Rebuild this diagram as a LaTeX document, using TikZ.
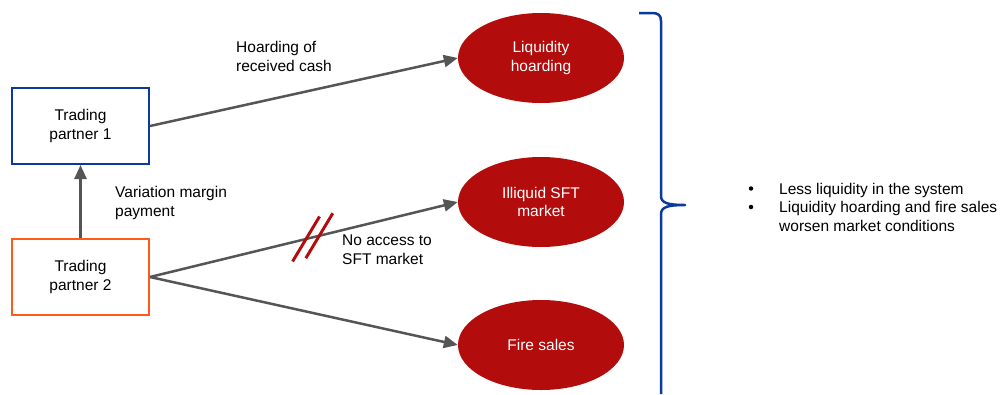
\documentclass[tikz,border=0pt]{standalone}
\usepackage{fontspec}
\setmainfont{Liberation Sans}
\usetikzlibrary{arrows.meta,shapes.geometric,calc}
\definecolor{boxblue}{HTML}{0B3A9E}
\definecolor{boxorange}{HTML}{FF5A1A}
\definecolor{darkred}{HTML}{B20C0C}
\definecolor{arrowgray}{HTML}{555555}
\tikzset{
  txt/.style={font=\fontsize{15.5}{18.8}\selectfont},
  partner/.style={txt, draw, line width=2pt, minimum width=137pt, minimum height=76pt, align=center, inner sep=0pt},
  effect/.style={txt, ellipse, fill=darkred, text=white, minimum width=166pt, minimum height=90pt, align=center, inner sep=0pt},
  flow/.style={draw=arrowgray, line width=2.5pt, -{Triangle[length=14pt,width=12pt]}},
  label/.style={txt, align=left, anchor=north west, inner sep=0pt},
  line/.style={txt, anchor=base west, inner sep=0pt},
  bulletmark/.style={circle, fill=black, inner sep=0pt, minimum size=4.5pt},
  cut/.style={draw=darkred, line width=3pt},
}
\begin{document}
\begin{tikzpicture}[x=1pt,y=-1pt]
\useasboundingbox (0,0) rectangle (1008,394);

\node[partner, draw=boxblue] (tp1) at (80.5,126) {Trading\\partner 1};
\node[partner, draw=boxorange] (tp2) at (80.5,277) {Trading\\partner 2};

\node[effect] (lh) at (541,58) {Liquidity\\hoarding};
\node[effect] (sft) at (541,202) {Illiquid SFT\\market};
\node[effect] (fs) at (541,345) {Fire sales};

\draw[flow] (tp2.north) -- (tp1.south);
\draw[flow] (tp1.east) -- (lh.west);
\draw[flow] (tp2.east) -- (sft.west);
\draw[flow] (tp2.east) -- (fs.west);

% cut marks on the route to the SFT market
\path (tp2.east) -- (sft.west) coordinate[pos=0.507] (c1) coordinate[pos=0.55] (c2);
\draw[cut] ($(c1)+(-13.5,22.5)$) -- ($(c1)+(13.5,-22.5)$);
\draw[cut] ($(c2)+(-13.5,22.5)$) -- ($(c2)+(13.5,-22.5)$);

\node[label] (lhold) at (236,41) {Hoarding of\\received cash};
\node[label] (lvm) at (115,186) {Variation margin\\payment};
\node[label] (lacc) at (342,235) {No access to\\SFT market};

% brace grouping the three effects
\draw[boxblue, line width=2.5pt, line join=round]
  (639,13) -- (652,13) .. controls (658,13) and (661,15) .. (661,21)
  -- (661,196) .. controls (661,203) and (668,205) .. (685,205)
  .. controls (668,205) and (661,207) .. (661,214) -- (661,394);

% summary bullets
\node[line] (s1) at (779,194) {Less liquidity in the system};
\node[line] (s2) at (779,212.5) {Liquidity hoarding and fire sales};
\node[line] (s3) at (779,231) {worsen market conditions};
\node[bulletmark] (b1) at (751,188.5) {};
\node[bulletmark] (b2) at (751,207) {};
\end{tikzpicture}
\end{document}
